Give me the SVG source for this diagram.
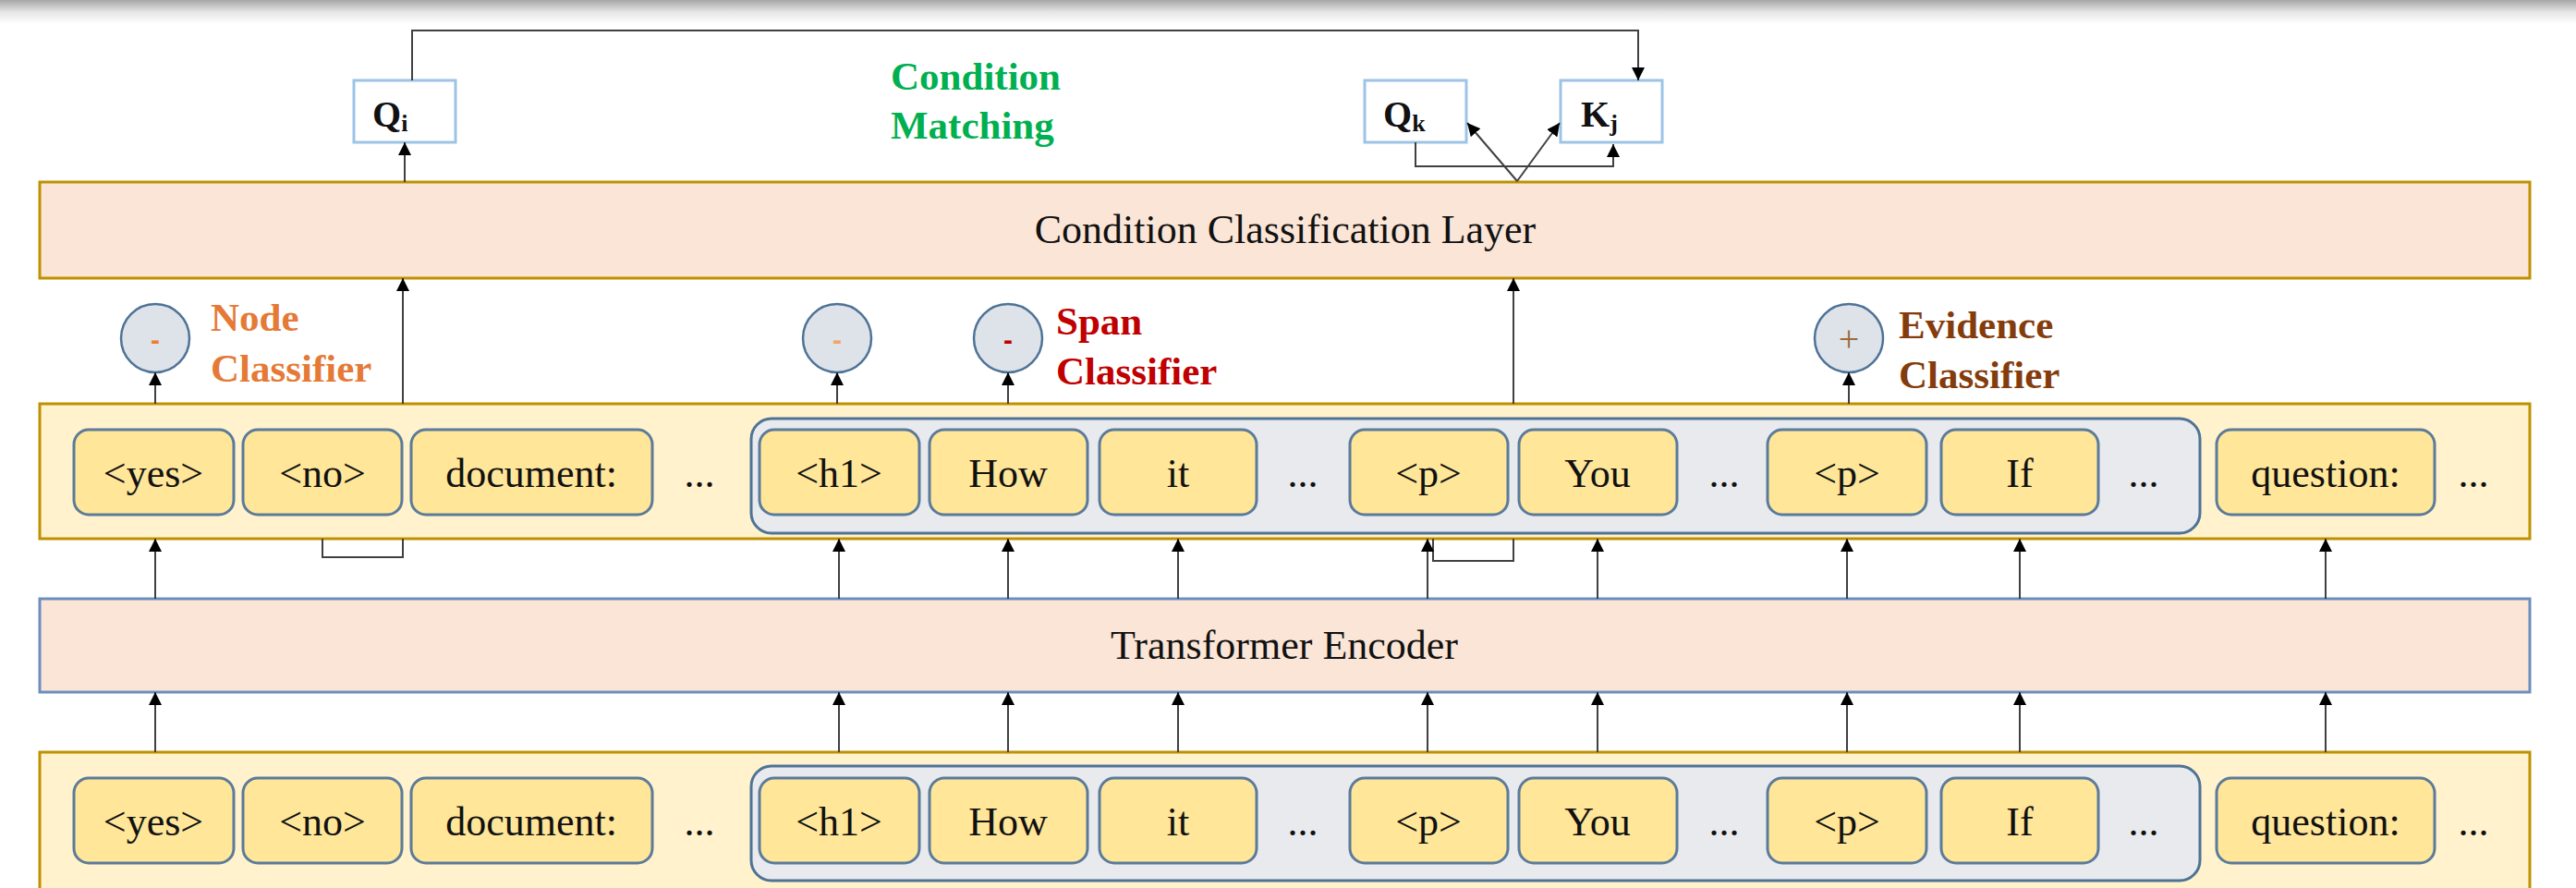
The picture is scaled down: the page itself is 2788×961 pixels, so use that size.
<svg xmlns="http://www.w3.org/2000/svg" width="2788" height="961" viewBox="0 0 2788 961">
<defs>
<linearGradient id="topShade" x1="0" y1="0" x2="0" y2="1">
<stop offset="0" stop-color="#a6a6a6"/>
<stop offset="0.5" stop-color="#e6e6e6"/>
<stop offset="1" stop-color="#ffffff"/>
</linearGradient>
<marker id="arr" viewBox="0 0 14 14" markerWidth="14" markerHeight="14" refX="14" refY="7" orient="auto" markerUnits="userSpaceOnUse">
<path d="M0,0 L14,7 L0,14 z" fill="#000"/>
</marker>
</defs>
<style>
.layer{fill:#FBE5D6;stroke:#BF9000;stroke-width:3}
.enc{fill:#FBE5D6;stroke:#6C8EBF;stroke-width:3}
.row{fill:#FFF2CC;stroke:#BF9000;stroke-width:3}
.grp{fill:#E8EAEE;stroke:#4E7396;stroke-width:3}
.tok{fill:#FFE699;stroke:#5B7B9A;stroke-width:3}
.qbox{fill:#fff;stroke:#9DC3E6;stroke-width:3}
.circ{fill:#DEE2E9;stroke:#4E7396;stroke-width:2.5}
.t{font-family:"Liberation Serif",serif;font-size:44px;fill:#111;text-anchor:middle}
.lbl{font-family:"Liberation Serif",serif;font-size:43px;font-weight:bold}
.q{font-family:"Liberation Serif",serif;font-size:40px;font-weight:bold;fill:#111}
.sub{font-size:26px}
.c{fill:none;stroke:#404040;stroke-width:2}
.ca{fill:none;stroke:#404040;stroke-width:2;marker-end:url(#arr)}
</style>
<rect x="0" y="0" width="2788" height="26" fill="url(#topShade)"/>

<g id="condition-layer">
<rect class="layer" x="43" y="197" width="2695" height="104"/>
<text class="t" x="1391" y="263">Condition Classification Layer</text>
</g>

<g id="transformer-encoder">
<rect class="enc" x="43" y="648" width="2695" height="101"/>
<text class="t" x="1390" y="713">Transformer Encoder</text>
</g>

<g id="output-row">
<rect class="row" x="43" y="437" width="2695" height="146"/>
<rect class="grp" x="813" y="453" width="1568" height="124" rx="22"/>
<rect class="tok" x="80" y="465" width="173" height="92" rx="16"/><text class="t" x="166" y="527">&lt;yes&gt;</text>
<rect class="tok" x="263" y="465" width="172" height="92" rx="16"/><text class="t" x="349" y="527">&lt;no&gt;</text>
<rect class="tok" x="445" y="465" width="261" height="92" rx="16"/><text class="t" x="575" y="527">document:</text>
<text class="t" x="757" y="527">...</text>
<rect class="tok" x="822" y="465" width="173" height="92" rx="16"/><text class="t" x="908" y="527">&lt;h1&gt;</text>
<rect class="tok" x="1006" y="465" width="171" height="92" rx="16"/><text class="t" x="1091" y="527">How</text>
<rect class="tok" x="1190" y="465" width="170" height="92" rx="16"/><text class="t" x="1275" y="527">it</text>
<text class="t" x="1410" y="527">...</text>
<rect class="tok" x="1461" y="465" width="171" height="92" rx="16"/><text class="t" x="1546" y="527">&lt;p&gt;</text>
<rect class="tok" x="1644" y="465" width="171" height="92" rx="16"/><text class="t" x="1729" y="527">You</text>
<text class="t" x="1866" y="527">...</text>
<rect class="tok" x="1913" y="465" width="172" height="92" rx="16"/><text class="t" x="1999" y="527">&lt;p&gt;</text>
<rect class="tok" x="2101" y="465" width="170" height="92" rx="16"/><text class="t" x="2186" y="527">If</text>
<text class="t" x="2320" y="527">...</text>
<rect class="tok" x="2399" y="465" width="236" height="92" rx="16"/><text class="t" x="2517" y="527">question:</text>
<text class="t" x="2677" y="527">...</text>
</g>

<g id="input-row">
<rect class="row" x="43" y="814" width="2695" height="160"/>
<rect class="grp" x="813" y="829" width="1568" height="124" rx="22"/>
<rect class="tok" x="80" y="842" width="173" height="92" rx="16"/><text class="t" x="166" y="904">&lt;yes&gt;</text>
<rect class="tok" x="263" y="842" width="172" height="92" rx="16"/><text class="t" x="349" y="904">&lt;no&gt;</text>
<rect class="tok" x="445" y="842" width="261" height="92" rx="16"/><text class="t" x="575" y="904">document:</text>
<text class="t" x="757" y="904">...</text>
<rect class="tok" x="822" y="842" width="173" height="92" rx="16"/><text class="t" x="908" y="904">&lt;h1&gt;</text>
<rect class="tok" x="1006" y="842" width="171" height="92" rx="16"/><text class="t" x="1091" y="904">How</text>
<rect class="tok" x="1190" y="842" width="170" height="92" rx="16"/><text class="t" x="1275" y="904">it</text>
<text class="t" x="1410" y="904">...</text>
<rect class="tok" x="1461" y="842" width="171" height="92" rx="16"/><text class="t" x="1546" y="904">&lt;p&gt;</text>
<rect class="tok" x="1644" y="842" width="171" height="92" rx="16"/><text class="t" x="1729" y="904">You</text>
<text class="t" x="1866" y="904">...</text>
<rect class="tok" x="1913" y="842" width="172" height="92" rx="16"/><text class="t" x="1999" y="904">&lt;p&gt;</text>
<rect class="tok" x="2101" y="842" width="170" height="92" rx="16"/><text class="t" x="2186" y="904">If</text>
<text class="t" x="2320" y="904">...</text>
<rect class="tok" x="2399" y="842" width="236" height="92" rx="16"/><text class="t" x="2517" y="904">question:</text>
<text class="t" x="2677" y="904">...</text>
</g>

<g id="qi">
<rect class="qbox" x="383" y="87" width="110" height="67"/>
<text class="q" x="403" y="137">Q<tspan class="sub" dy="5">i</tspan></text>
</g>
<g id="qk">
<rect class="qbox" x="1477" y="87" width="110" height="67"/>
<text class="q" x="1497" y="137">Q<tspan class="sub" dy="5">k</tspan></text>
</g>
<g id="kj">
<rect class="qbox" x="1689" y="87" width="110" height="67"/>
<text class="q" x="1711" y="137">K<tspan class="sub" dy="5">j</tspan></text>
</g>

<g id="condition-matching-label">
<text class="lbl" x="964" y="97" fill="#00B050">Condition</text>
<text class="lbl" x="964" y="150" fill="#00B050">Matching</text>
</g>

<g id="node-classifier">
<circle class="circ" cx="168" cy="366" r="37"/>
<text x="168" y="378" font-family="Liberation Sans,sans-serif" font-size="30" font-weight="bold" fill="#ED7D31" text-anchor="middle">-</text>
<text class="lbl" x="228" y="358" fill="#E57A36">Node</text>
<text class="lbl" x="228" y="413" fill="#E57A36">Classifier</text>
</g>

<g id="span-classifier">
<circle class="circ" cx="906" cy="366" r="37"/>
<text x="906" y="378" font-family="Liberation Sans,sans-serif" font-size="30" font-weight="bold" fill="#F4A460" text-anchor="middle">-</text>
<circle class="circ" cx="1091" cy="366" r="37"/>
<text x="1091" y="378" font-family="Liberation Sans,sans-serif" font-size="30" font-weight="bold" fill="#C00000" text-anchor="middle">-</text>
<text class="lbl" x="1143" y="362" fill="#C00000">Span</text>
<text class="lbl" x="1143" y="416" fill="#C00000">Classifier</text>
</g>

<g id="evidence-classifier">
<circle class="circ" cx="2001" cy="366" r="37"/>
<text x="2001" y="380" font-family="Liberation Serif,serif" font-size="40" fill="#9C6B3C" text-anchor="middle">+</text>
<text class="lbl" x="2055" y="366" fill="#843C0C">Evidence</text>
<text class="lbl" x="2055" y="420" fill="#843C0C">Classifier</text>
</g>

<g id="connectors">
<path class="ca" d="M446 87 V33 H1773 V87"/>
<path class="ca" d="M438 197 V154"/>
<path class="ca" d="M1642 196 L1588 133"/>
<path class="ca" d="M1642 196 L1688 133"/>
<path class="ca" d="M1532 154 V180 H1746 V156"/>
<path class="ca" d="M436 437 V301"/>
<path class="ca" d="M1638 437 V301"/>
<path class="c" d="M349 583 V603 H436 V583"/>
<path class="c" d="M1551 583 V607 H1638 V583"/>
<path class="ca" d="M168 437 V403"/>
<path class="ca" d="M906 437 V403"/>
<path class="ca" d="M1091 437 V403"/>
<path class="ca" d="M2001 437 V403"/>
<path class="ca" d="M168 648 V583"/>
<path class="ca" d="M908 648 V583"/>
<path class="ca" d="M1091 648 V583"/>
<path class="ca" d="M1275 648 V583"/>
<path class="ca" d="M1545 648 V583"/>
<path class="ca" d="M1729 648 V583"/>
<path class="ca" d="M1999 648 V583"/>
<path class="ca" d="M2186 648 V583"/>
<path class="ca" d="M2517 648 V583"/>
<path class="ca" d="M168 814 V749"/>
<path class="ca" d="M908 814 V749"/>
<path class="ca" d="M1091 814 V749"/>
<path class="ca" d="M1275 814 V749"/>
<path class="ca" d="M1545 814 V749"/>
<path class="ca" d="M1729 814 V749"/>
<path class="ca" d="M1999 814 V749"/>
<path class="ca" d="M2186 814 V749"/>
<path class="ca" d="M2517 814 V749"/>
</g>
</svg>
